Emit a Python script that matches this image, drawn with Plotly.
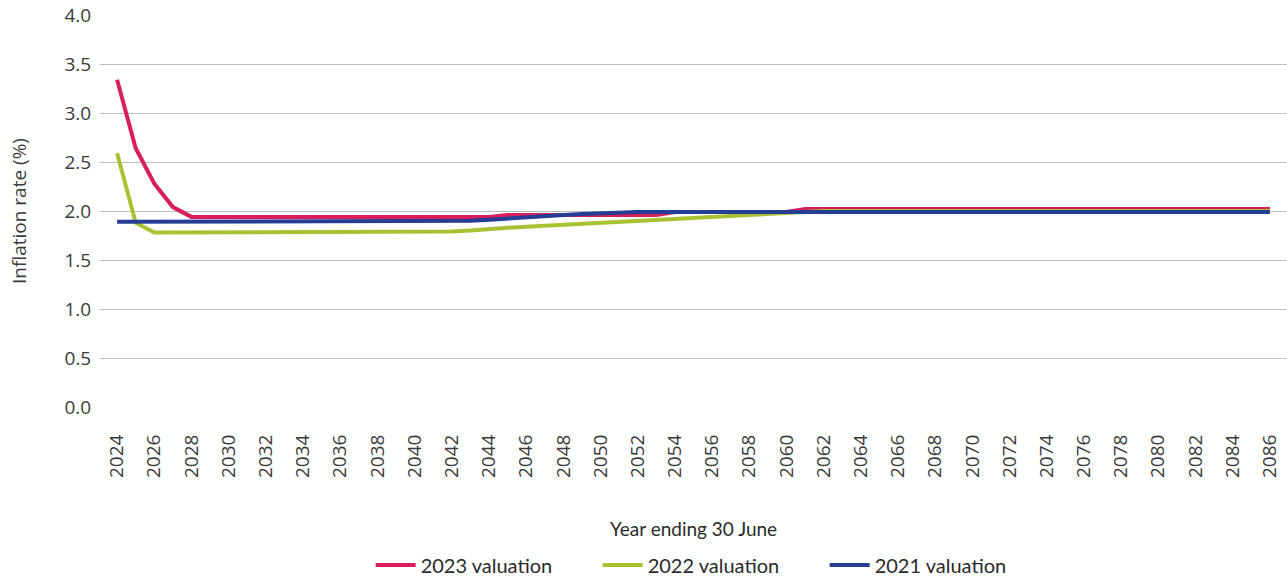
import plotly.graph_objects as go

# Financial years (year ending 30 June)
years = list(range(2024, 2087))

# Assumed inflation rate (%) by valuation
val_2023 = ([3.34, 2.64, 2.28, 2.04] + [1.94] * 17 + [1.96] * 9 + [1.99] * 7 + [2.02] * 26)
val_2022 = ([2.59, 1.88] + [1.78] * 16 +
            [1.79, 1.80, 1.82, 1.83, 1.84, 1.85, 1.86, 1.87, 1.88, 1.89,
             1.90, 1.91, 1.92, 1.93, 1.94, 1.95, 1.96, 1.97, 1.99] + [2.00] * 26)
val_2021 = ([1.89] * 19 + [1.90, 1.91, 1.925, 1.94, 1.95, 1.96, 1.97, 1.98] + [1.99] * 36)

series_names = ["2023 valuation", "2022 valuation", "2021 valuation"]
series_colors = ["#D91F5A", "#A8C332", "#253D94"]

y_ticks = [0.0, 0.5, 1.0, 1.5, 2.0, 2.5, 3.0, 3.5, 4.0]
x_ticks = list(range(2024, 2087, 2))

fig = go.Figure()
for name, vals, color in zip(series_names, [val_2023, val_2022, val_2021], series_colors):
    fig.add_trace(go.Scatter(
        x=years, y=vals, name=name, mode="lines",
        line=dict(color=color, width=4),
    ))

tick_font = dict(family="Open Sans", size=19, color="#3a3a3a")

fig.update_layout(
    width=1287, height=579,
    margin=dict(l=100, r=0, t=15, b=172),
    paper_bgcolor="white", plot_bgcolor="white",
    showlegend=True,
    legend=dict(
        orientation="h", xref="container", yref="container",
        x=0.288, xanchor="left", y=0.024, yanchor="middle",
        font=dict(family="Lato", size=20, color="#2a2a2a"),
        entrywidth=172, itemwidth=40,
    ),
    xaxis=dict(
        range=[2024 - 0.92, 2086 + 0.92],
        tickmode="array", tickvals=x_ticks, ticktext=[str(v) for v in x_ticks],
        tickangle=-90, tickfont=tick_font,
        showgrid=False, zeroline=False, showline=False,
        ticks="outside", ticklen=19, tickcolor="rgba(0,0,0,0)",
        automargin=False,
    ),
    yaxis=dict(
        range=[0, 4.0],
        tickmode="array", tickvals=y_ticks, ticktext=[f"{v:.1f}" for v in y_ticks],
        tickfont=tick_font,
        showgrid=True, gridcolor="#bdbdbd", gridwidth=1,
        zeroline=False, showline=False,
        ticks="outside", ticklen=4, tickcolor="rgba(0,0,0,0)",
        title=dict(text="Inflation rate (%)", font=tick_font, standoff=32),
        automargin=False,
    ),
    annotations=[dict(
        text="Year ending 30 June", xref="paper", yref="paper",
        x=0.5, y=-0.31, xanchor="center", yanchor="middle", showarrow=False,
        font=dict(family="Lato", size=19, color="#2a2a2a"),
    )],
)

fig.write_html("out.html")
